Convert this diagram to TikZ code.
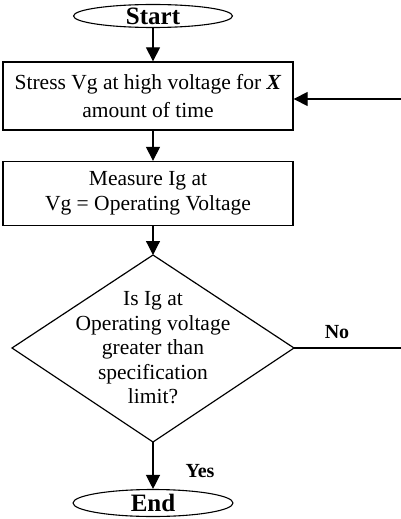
\documentclass[tikz,border=0pt]{standalone}
\usepackage{fontspec}
\setmainfont{Liberation Serif}
\usetikzlibrary{arrows.meta,shapes.geometric}
\begin{document}
\begin{tikzpicture}[x=1pt,y=-1pt,
  font=\fontsize{21.5}{24.5}\selectfont,
  box/.style={draw, line width=1.3pt, minimum width=290pt, inner sep=0pt, align=center},
  term/.style={draw, ellipse, line width=1.1pt, inner sep=0pt},
  termtext/.style={font=\fontsize{25}{27}\selectfont\bfseries, inner sep=0pt},
  conn/.style={line width=1.2pt, -{Triangle[length=14pt,width=14pt]}},
  plain/.style={line width=1.2pt},
  lbl/.style={font=\fontsize{20}{22}\selectfont\bfseries}]
\useasboundingbox (0,0) rectangle (401,519);
\fill[white] (0,0) rectangle (401,519);
% terminals
\node[term, minimum width=159pt, minimum height=23pt,
      label={[termtext]center:Start}] (start) at (153,16) {};
\node[term, minimum width=160pt, minimum height=27pt,
      label={[termtext]center:End}] (end) at (153,503) {};
% process boxes
\node[box, minimum height=68pt] (b1) at (148,96)
  {Stress Vg at high voltage for \textbf{\textit{X}}\\[4pt]amount of time};
\node[box, minimum height=64pt] (b2) at (148,193.5)
  {Measure Ig at\\Vg = Operating Voltage};
% decision
\coordinate (dT) at (153,255);
\coordinate (dL) at (12,348);
\coordinate (dR) at (294,348);
\coordinate (dB) at (153,442);
\draw[line width=1.2pt, line join=miter] (dT) -- (dR) -- (dB) -- (dL) -- cycle;
\node[align=center, inner sep=0pt] (dq) at (153,348)
  {Is Ig at\\Operating voltage\\greater than\\specification\\limit?};
% loop-back ends
\coordinate (rLow) at (401,348);
\coordinate (rTop) at (401,99);
% connectors
\draw[conn] (start) -- (start |- b1.north);
\draw[conn] (b1.south -| start) -- (b2.north -| start);
\draw[conn] (b2.south -| start) -- (dT);
\draw[conn] (dB) -- (end);
\draw[plain] (dR) -- (rLow);
\draw[conn] (rTop) -- (b1.east |- rTop);
% labels
\node[lbl] (no) at (337,332) {No};
\node[lbl] (yes) at (200,471) {Yes};
\end{tikzpicture}
\end{document}
